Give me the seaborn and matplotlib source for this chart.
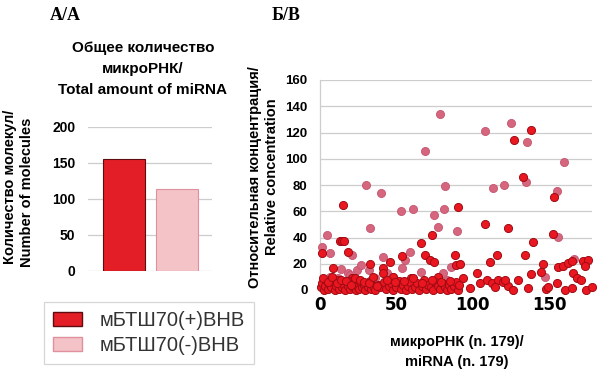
import matplotlib
matplotlib.use("Agg")
import matplotlib.pyplot as plt
import seaborn as sns
from matplotlib.patches import Patch

sns.set_theme(style="white")
plt.rcParams['font.family'] = ['Liberation Sans', 'DejaVu Sans']
plt.rcParams['text.color'] = 'black'
plt.rcParams['xtick.color'] = 'black'
plt.rcParams['ytick.color'] = 'black'

# ---------------- data ----------------
groups = ["мБТШ70(+)ВНВ", "мБТШ70(-)ВНВ"]
counts = [156, 114]
bar_yticks = [0, 50, 100, 150, 200]

# scatter: pink series (мБТШ70(-)ВНВ)
pink_x = [1, 4.8, 6.5, 14, 18.5, 20.7, 24, 27, 30, 32.7, 32, 40, 41.4, 44, 53, 55.6, 53.4,
          61, 59, 65.8, 69, 74.8, 77, 78.5, 81, 82, 80.7, 89.8, 86, 108, 113, 120.5, 125,
          134.5, 135.6, 147, 154.8, 156, 160, 166, 3, 6.5, 12, 19.6, 26.2, 36, 48, 22, 43,
          70, 83, 10, 29, 57]
pink_y = [33, 42, 28, 16, 13, 26.7, 15, 19, 80, 47.5, 15, 74, 25.4, 13, 60, 23, 16.7,
          62, 29, 14, 106, 57, 48, 134, 61.5, 79.5, 13, 45, 17.8, 121, 78, 80, 127,
          82, 113, 10, 75.7, 40.6, 97.5, 24, 8, 10, 9, 11.4, 6.3, 9, 10, 5, 5,
          4, 8, 3, 4, 6]

# scatter: red series (мБТШ70(+)ВНВ), scattered points
red_hi_x = [1, 8.7, 14.8, 13, 14.5, 16, 18.5, 32.7, 41.4, 45.8, 53.4, 48, 59.3, 65.8, 68.7,
            72, 74.8, 73.5, 77, 90.5, 88.3, 89, 91.5, 93.7, 98, 102.5, 108, 104.6, 109, 111,
            112.3, 116, 116.6, 120, 123, 123, 127, 129.7, 126.4, 133, 134, 136.2, 137.8,
            138.4, 139.5, 146, 144.5, 148, 149.5, 153, 152.6, 154.8, 156, 159, 162.4, 164.6,
            160.2, 165.7, 167.9, 170.7, 165.2, 172.2, 175.5, 173.3, 174, 177.7, 114.4, 121,
            20.7, 41.4]
red_hi_y = [28, 17, 65, 37, 37.5, 37, 29, 20, 16.5, 21.6, 26, 10, 9, 36, 27,
            23, 21, 42, 10, 63.5, 27, 19, 19.5, 9, 1.3, 12.7, 50, 5, 7.6, 21.6,
            5, 26.7, 8, 6, 47, 3, 114, 7.6, 0, 86, 26.7, 1.3, 122,
            12.2, 36.8, 19.6, 14, 1, 2.5, 70.6, 42.4, 5, 17.8, 18.3, 20.3, 22,
            0, 12.7, 9, 7.6, 1.3, 22, 23, 18.3, 0, 2.5, 2.5, 7.6,
            9, 12.7]

# red series, dense band near zero
red_low_x = [0.5, 1.5, 2.5, 3.5, 4.5, 5.5, 6.5, 7.5, 8.5, 9.5, 10.5, 11.5, 12.5, 13.5, 14.5,
             15.5, 16.5, 17.5, 18.5, 19.5, 20.5, 21.5, 22.5, 23.5, 24.5, 25.5, 26.5, 27.5,
             28.5, 29.5, 30.5, 31.5, 32.5, 33.5, 34.5, 36, 38, 39, 42, 43.5, 45, 46.5, 48,
             50, 51.5, 53, 54.5, 56, 57.5, 59, 60.5, 62, 63.5, 65, 66.5, 68, 69.5, 71, 72.5,
             74, 75.5, 77, 78.5, 80, 81.5, 83, 84.5, 86, 87.5, 89, 90.5,
             2, 5, 8, 11, 14, 17, 20, 23, 26, 29, 32, 35, 37, 44, 49, 55, 61, 67, 73, 79, 85, 91]
red_low_y = [2, 5, 0, 3, 7, 1, 4, 2, 6, 0, 3, 8, 1, 5, 2, 4, 0, 6, 3, 1,
             7, 2, 5, 0, 3, 1, 6, 2, 4, 0, 5, 2, 7, 1, 3, 0, 4, 2, 6, 1,
             3, 5, 0, 2, 7, 1, 4, 0, 3, 6, 1, 2, 5, 0, 3, 8, 1, 4, 2, 0,
             6, 3, 1, 5, 2, 0, 4, 1, 3, 6, 0,
             9, 6, 10, 5, 8, 7, 4, 9, 8, 6, 5, 10, 3, 8, 6, 7, 9, 5, 8, 6, 7, 4]

sc_xticks = [0, 50, 100, 150]
sc_yticks = [0, 20, 40, 60, 80, 100, 120, 140, 160]

# ---------------- style ----------------
RED = "#e41e26"
RED_EDGE = "#5e0c10"
PINK_BAR = "#f3c3c8"
PINK_BAR_EDGE = "#e0909c"
DOT_RED = "#ea1620"
DOT_RED_EDGE = "#a00c14"
DOT_PINK = "#d6667e"
DOT_PINK_EDGE = "#c4546e"
GRID = "#cdcdcd"

W, H = 598, 379
fig = plt.figure(figsize=(W / 100, H / 100), dpi=100)

# ---------------- panel A: bars ----------------
ax1 = fig.add_axes([88 / W, 1 - 271 / H, 124 / W, 144 / H])
sns.barplot(x=groups, y=counts, hue=groups, palette=[RED, PINK_BAR], ax=ax1,
            width=0.8, legend=False, saturation=1, zorder=3)
for p, ec in zip(ax1.patches, [RED_EDGE, PINK_BAR_EDGE]):
    p.set_edgecolor(ec)
    p.set_linewidth(0.8)
ax1.set_xlim(-0.686, 1.676)
ax1.set_ylim(0, 200)
ax1.set_yticks(bar_yticks)
ax1.set_yticklabels([str(v) for v in bar_yticks], fontsize=10, fontweight="bold")
ax1.set_xticks([])
ax1.set_xlabel("")
ax1.set_ylabel("")
ax1.grid(axis="y", color=GRID, lw=0.9)
ax1.set_axisbelow(True)
for s in ax1.spines.values():
    s.set_visible(False)
ax1.tick_params(axis="y", length=0, pad=9)

# ---------------- panel B: scatter ----------------
ax2 = fig.add_axes([320 / W, 1 - 290 / H, 272 / W, 210 / H])
sns.scatterplot(x=pink_x, y=pink_y, ax=ax2, color=DOT_PINK, edgecolor=DOT_PINK_EDGE,
                s=34, linewidth=0.6, clip_on=False, zorder=3)
sns.scatterplot(x=red_hi_x + red_low_x, y=red_hi_y + red_low_y, ax=ax2, color=DOT_RED,
                edgecolor=DOT_RED_EDGE, s=34, linewidth=0.7, clip_on=False, zorder=4)
ax2.set_xlim(0, 178)
ax2.set_ylim(0, 160)
ax2.set_yticks(sc_yticks)
ax2.set_yticklabels([str(v) for v in sc_yticks], fontsize=9.5, fontweight="bold")
ax2.set_xticks(sc_xticks)
ax2.set_xticklabels([str(v) for v in sc_xticks], fontsize=12, fontweight="bold",
                    family="DejaVu Sans")
ax2.grid(axis="y", color=GRID, lw=0.9)
ax2.set_axisbelow(True)
for k, s in ax2.spines.items():
    s.set_visible(k == "left")
ax2.spines["left"].set_color(GRID)
ax2.spines["left"].set_linewidth(0.9)
ax2.tick_params(axis="y", length=0, pad=9)
ax2.tick_params(axis="x", length=0, pad=4)

# ---------------- texts ----------------
def ft(x, y, s, **kw):
    fig.text(x / W, 1 - y / H, s, ha="center", va="center", **kw)

ft(65, 16, "А/A", fontsize=13, fontweight="bold", family="Liberation Serif")
ft(286, 16, "Б/B", fontsize=13, fontweight="bold", family="Liberation Serif")

ft(143, 48, "Общее количество", fontsize=11, fontweight="bold")
ft(143, 69, "микроРНК/", fontsize=11, fontweight="bold")
ft(143, 90, "Total amount of miRNA", fontsize=11, fontweight="bold")

ft(10, 187, "Количество молекул/", fontsize=10.5, fontweight="bold", rotation=90)
ft(27, 192, "Number of molecules", fontsize=10.5, fontweight="bold", rotation=90)

ft(255, 177, "Относительная концентрация/", fontsize=10.5, fontweight="bold", rotation=90)
ft(272, 177, "Relative concentration", fontsize=10.5, fontweight="bold", rotation=90)

ft(457, 342, "микроРНК (n. 179)/", fontsize=10.5, fontweight="bold")
ft(457, 362, "miRNA (n. 179)", fontsize=10.5, fontweight="bold")

# ---------------- legend ----------------
handles = [Patch(facecolor=RED, edgecolor=RED_EDGE, lw=1.0),
           Patch(facecolor=PINK_BAR, edgecolor=PINK_BAR_EDGE, lw=1.0)]
leg = fig.legend(handles=handles, labels=groups, loc="upper left",
                 bbox_to_anchor=(44 / W, 1 - 302 / H), fontsize=14.5, frameon=True,
                 fancybox=False, edgecolor="#cccccc", handlelength=1.45, handleheight=0.72,
                 handletextpad=0.85, labelspacing=0.3, borderpad=0.45, borderaxespad=0)
leg.get_frame().set_linewidth(0.9)
for t in leg.get_texts():
    t.set_color("#333333")

fig.savefig("out.png", dpi=100)
